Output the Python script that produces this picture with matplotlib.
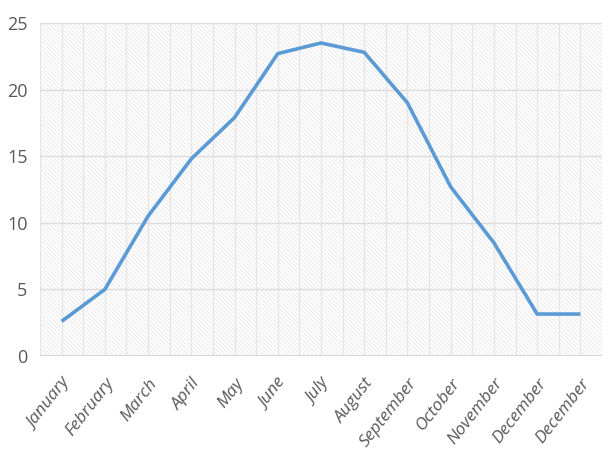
import numpy as np
import matplotlib.pyplot as plt

months = ['January', 'February', 'March', 'April', 'May', 'June', 'July',
          'August', 'September', 'October', 'November', 'December', 'December']
temps = [2.6, 5.0, 10.5, 14.8, 17.9, 22.7, 23.5, 22.8, 19.0, 12.7, 8.5, 3.15, 3.15]
yticks = [0, 5, 10, 15, 20, 25]

plt.rcParams['font.family'] = ['Open Sans', 'DejaVu Sans']
plt.rcParams['hatch.linewidth'] = 0.5
plt.rcParams['hatch.color'] = '#e2e2e2'

fig = plt.figure(figsize=(6.13, 4.70), dpi=100)
ax = fig.add_axes([40/613, 1-356/470, 562/613, 333/470])

x = np.arange(len(months))
ax.set_xlim(-0.5, len(months) - 0.5)
ax.set_ylim(0, 25)

# diagonal hatch background
ax.patch.set_facecolor('white')
ax.patch.set_hatch('\\' * 8)
ax.patch.set_edgecolor('#e2e2e2')

# grid: horizontal at ticks, vertical every half category
for v in np.arange(-0.5, len(months), 0.5):
    ax.axvline(v, color='#e6e6e6', lw=1, zorder=1)
for v in yticks:
    ax.axhline(v, color='#dcdcdc', lw=1, zorder=1)
ax.axhline(0, color='#d4d4d4', lw=1.3, zorder=2)

ax.plot(x, temps, color='#5b9bd5', lw=2.6, zorder=3, solid_capstyle='butt')

for s in ax.spines.values():
    s.set_visible(False)

ax.set_yticks(yticks)
ax.set_yticklabels([str(v) for v in yticks], fontsize=13, color='#595959')
ax.set_xticks(x)
ax.set_xticklabels(months, rotation=52, ha='right', rotation_mode='anchor',
                   fontsize=12.5, color='#595959', style='italic')
ax.tick_params(length=0, pad=9)
ax.tick_params(axis='x', pad=14)

fig.savefig('out.png', dpi=100)
